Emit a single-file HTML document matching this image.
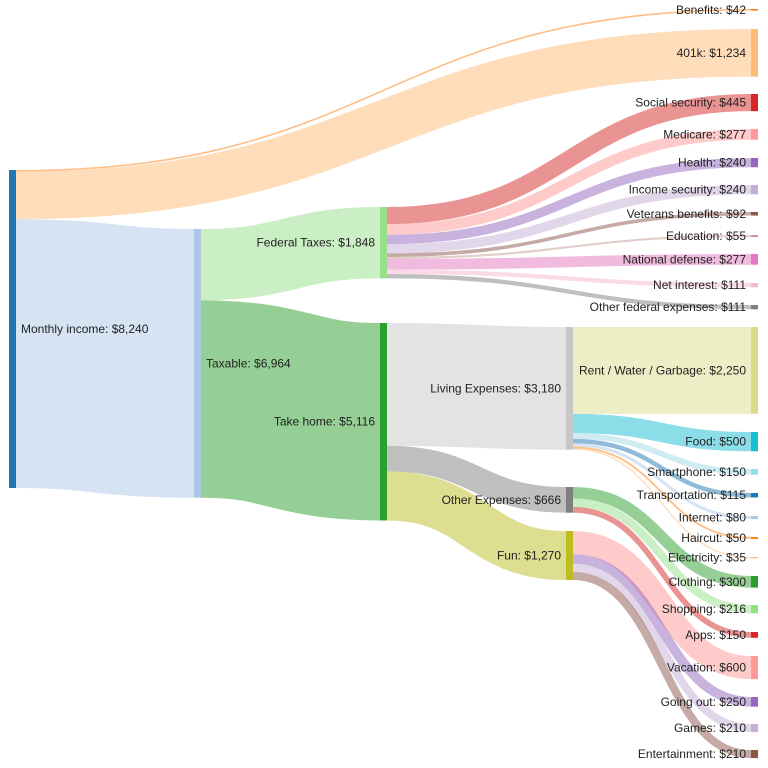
<!DOCTYPE html>
<html><head><meta charset="utf-8"><style>
html,body{margin:0;padding:0;background:#fff}
svg{display:block;font-family:"Liberation Sans",sans-serif;font-size:12px}
</style></head><body>
<svg id="chart" width="768" height="768"></svg>
<script>
const nodeNames=["Monthly income","Taxable","Benefits","401k","Federal Taxes","Take home","Living Expenses","Other Expenses","Fun","Social security","Medicare","Health","Income security","Veterans benefits","Education","National defense","Net interest","Other federal expenses","Rent / Water / Garbage","Food","Smartphone","Transportation","Internet","Haircut","Electricity","Clothing","Shopping","Apps","Vacation","Going out","Games","Entertainment"];
const nodeColors=["#1f77b4","#aec7e8","#ff7f0e","#ffbb78","#98df8a","#2ca02c","#c7c7c7","#7f7f7f","#bcbd22","#d62728","#ff9896","#9467bd","#c5b0d5","#8c564b","#c49c94","#e377c2","#f7b6d2","#7f7f7f","#dbdb8d","#17becf","#9edae5","#1f77b4","#aec7e8","#ff7f0e","#ffbb78","#2ca02c","#98df8a","#d62728","#ff9896","#9467bd","#c5b0d5","#8c564b"];
const linkSources=[0,0,0,1,1,4,4,4,4,4,4,4,4,4,5,5,5,6,6,6,6,6,6,6,7,7,7,8,8,8,8];
const linkTargets=[2,3,1,4,5,9,10,11,12,13,14,15,16,17,6,7,8,18,19,20,21,22,23,24,25,26,27,28,29,30,31];
const linkValues=[42,1234,6964,1848,5116,445,277,240,240,92,55,277,111,111,3180,666,1270,2250,500,150,115,80,50,35,300,216,150,600,250,210,210];
// layout
const nodeCol=[0,1,4,4,2,2,3,3,3,4,4,4,4,4,4,4,4,4,4,4,4,4,4,4,4,4,4,4,4,4,4,4];
const nodeTop=[170,229,9,29,207,323,327,487,531,94,129,158,185,212,235,254,283,305,327,432,469,493,516,537,557,576,605,632,656,697,724,750];
const colX=[9,194,380,566,751];
const NW=7;
const K=318/8240;
const svg=document.getElementById('chart');
const NS='http://www.w3.org/2000/svg';
const fmt=v=>'$'+v.toLocaleString('en-US');
const inV=nodeNames.map(()=>0),outV=nodeNames.map(()=>0);
linkValues.forEach((v,i)=>{outV[linkSources[i]]+=v;inV[linkTargets[i]]+=v;});
const nodeVal=nodeNames.map((n,i)=>Math.max(inV[i],outV[i]));
const outOff=nodeTop.slice(),inOff=nodeTop.slice();
const gL=document.createElementNS(NS,'g');svg.appendChild(gL);
const gN=document.createElementNS(NS,'g');svg.appendChild(gN);
linkValues.forEach((v,i)=>{
  const s=linkSources[i],t=linkTargets[i],w=v*K;
  const y0=outOff[s]+w/2,y1=inOff[t]+w/2;outOff[s]+=w;inOff[t]+=w;
  const x0=colX[nodeCol[s]]+NW,x1=colX[nodeCol[t]],xm=(x0+x1)/2;
  const p=document.createElementNS(NS,'path');
  p.setAttribute('d',`M${x0},${y0}C${xm},${y0} ${xm},${y1} ${x1},${y1}`);
  p.setAttribute('fill','none');p.setAttribute('stroke',nodeColors[t]);
  p.setAttribute('stroke-opacity','0.5');p.setAttribute('stroke-width',Math.max(1,w));
  
  
  gL.appendChild(p);
});
nodeNames.forEach((n,i)=>{
  const h=Math.max(1,nodeVal[i]*K),x=colX[nodeCol[i]],y=nodeTop[i];
  const slug=n.toLowerCase().replace(/[^a-z0-9]+/g,'-').replace(/-$/,'');
  const r=document.createElementNS(NS,'rect');
  r.setAttribute('x',x);r.setAttribute('y',y);r.setAttribute('width',NW);r.setAttribute('height',h);
  r.setAttribute('fill',nodeColors[i]);
  
  
  gN.appendChild(r);
  const tx=document.createElementNS(NS,'text');
  const left=nodeCol[i]>=2;
  tx.setAttribute('x',left?x-5:x+NW+5);tx.setAttribute('y',y+h/2+4);
  tx.setAttribute('text-anchor',left?'end':'start');tx.setAttribute('fill','#222');
  tx.textContent=n+': '+fmt(nodeVal[i]);
  
  
  gN.appendChild(tx);
});
</script>
</body></html>
